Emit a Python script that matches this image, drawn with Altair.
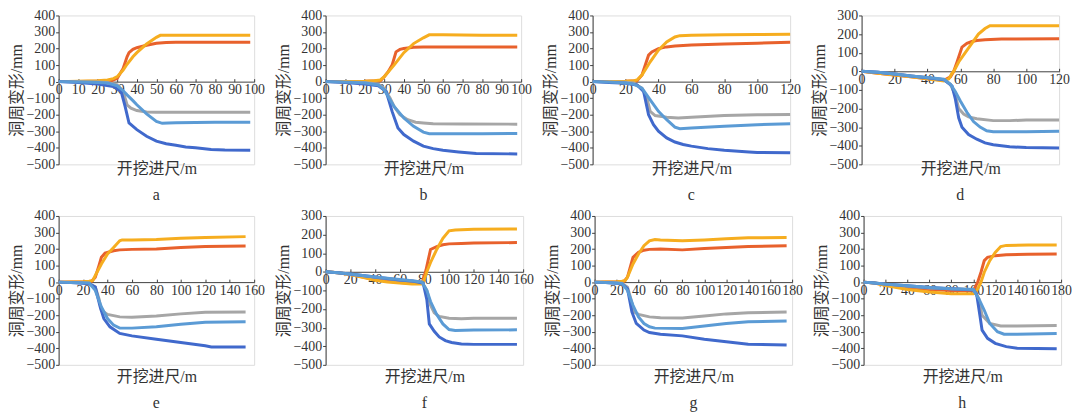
import altair as alt
import pandas as pd

SERIES = ["1red", "2orange", "3gray", "4dark", "5light"]
COLORS = ["#E8612C", "#F6AD1F", "#A6A6A6", "#4069CC", "#5B9BD5"]

A_RED = [(0,0),(10,1),(20,3),(27,5),(30,20),(33,80),(35,150),(36,175),(38,195),(40,205),(45,220),(50,232),(55,237),(60,238),(70,238),(80,238),(98,238)]
A_ORG = [(0,0),(10,2),(20,5),(25,10),(28,18),(30,30),(33,70),(35,105),(38,150),(40,175),(45,228),(50,268),(52,280),(60,280),(70,280),(80,280),(98,280)]
A_GRY = [(0,0),(10,0),(20,-2),(25,-5),(30,-20),(33,-60),(35,-140),(37,-160),(40,-175),(45,-183),(50,-185),(60,-185),(80,-185),(98,-185)]
A_LBL = [(0,0),(10,-2),(20,-5),(25,-8),(30,-25),(33,-55),(35,-80),(38,-115),(40,-140),(45,-195),(50,-240),(53,-252),(56,-250),(60,-248),(80,-246),(98,-246)]
A_DBL = [(0,0),(10,-5),(20,-15),(28,-30),(32,-60),(34,-150),(36,-250),(40,-290),(45,-330),(50,-360),(55,-375),(60,-385),(65,-395),(70,-400),(78,-410),(85,-413),(98,-415)]

B_RED = [(0,0),(20,2),(28,5),(30,30),(32,60),(34,100),(36,180),(38,195),(40,200),(45,208),(50,210),(60,210),(80,210),(98,210)]
B_ORG = [(0,0),(20,2),(25,5),(28,10),(30,30),(35,100),(40,175),(45,230),(50,265),(53,283),(60,283),(80,280),(98,280)]
B_GRY = [(0,0),(20,-5),(27,-15),(30,-40),(33,-100),(35,-150),(38,-200),(42,-230),(46,-245),(50,-250),(55,-255),(70,-256),(98,-257)]
B_LBL = [(0,0),(10,-3),(20,-8),(27,-20),(30,-50),(35,-150),(40,-220),(45,-270),(50,-305),(53,-315),(60,-315),(80,-315),(98,-313)]
B_DBL = [(0,0),(10,-5),(20,-15),(27,-25),(31,-60),(34,-180),(37,-280),(40,-320),(45,-360),(50,-390),(55,-405),(60,-415),(68,-425),(77,-435),(98,-437)]

C_RED = [(0,0),(20,2),(27,5),(30,40),(32,100),(34,160),(36,180),(40,200),(45,210),(50,215),(60,222),(80,228),(100,232),(120,238)]
C_ORG = [(0,0),(20,2),(25,5),(27,10),(30,40),(35,120),(40,190),(45,240),(50,270),(53,278),(60,280),(80,283),(100,285),(120,287)]
C_GRY = [(0,0),(20,-3),(25,-8),(30,-40),(33,-100),(35,-180),(38,-205),(45,-215),(52,-220),(60,-215),(80,-205),(100,-200),(120,-198)]
C_LBL = [(0,0),(10,-3),(20,-8),(25,-15),(30,-40),(35,-110),(40,-180),(45,-230),(50,-275),(53,-285),(60,-280),(80,-270),(100,-260),(120,-255)]
C_DBL = [(0,0),(10,-5),(20,-10),(27,-20),(31,-60),(34,-200),(37,-260),(40,-300),(45,-340),(50,-365),(55,-380),(60,-390),(70,-405),(80,-415),(95,-425),(100,-428),(120,-430)]

D_RED = [(0,0),(10,-10),(20,-20),(30,-30),(40,-40),(50,-48),(54,-30),(56,0),(58,50),(61,130),(64,150),(67,160),(70,165),(75,170),(85,173),(120,175)]
D_ORG = [(0,0),(10,-10),(20,-20),(30,-30),(40,-40),(50,-52),(53,-40),(55,-10),(56,0),(59,50),(63,100),(67,150),(71,200),(75,230),(78,245),(120,245)]
D_GRY = [(0,0),(10,-5),(20,-15),(30,-25),(40,-35),(50,-45),(54,-70),(57,-130),(59,-200),(62,-230),(65,-245),(70,-255),(80,-265),(90,-265),(100,-262),(120,-262)]
D_LBL = [(0,0),(10,-5),(20,-15),(30,-25),(40,-33),(50,-43),(54,-70),(57,-110),(60,-160),(64,-220),(68,-270),(72,-300),(76,-320),(80,-325),(100,-325),(120,-322)]
D_DBL = [(0,0),(10,-5),(20,-15),(30,-25),(40,-35),(50,-45),(55,-80),(57,-150),(59,-250),(61,-300),(65,-340),(70,-365),(75,-385),(80,-395),(90,-405),(100,-410),(120,-412)]

E_RED = [(0,0),(20,2),(27,5),(30,30),(33,100),(35,150),(38,175),(45,190),(50,195),(60,198),(80,200),(100,210),(120,215),(153,218)]
E_ORG = [(0,0),(20,2),(25,5),(28,10),(30,40),(35,110),(40,170),(45,210),(50,250),(52,255),(60,255),(80,258),(100,265),(120,270),(153,275)]
E_GRY = [(0,0),(20,-3),(25,-8),(30,-30),(33,-100),(35,-170),(40,-195),(50,-210),(60,-212),(80,-205),(100,-192),(120,-182),(153,-180)]
E_LBL = [(0,0),(10,-2),(25,-5),(30,-50),(35,-150),(40,-220),(45,-260),(50,-278),(60,-278),(80,-270),(100,-255),(120,-242),(153,-240)]
E_DBL = [(0,0),(10,-3),(25,-10),(30,-30),(34,-150),(37,-220),(42,-270),(50,-310),(60,-325),(80,-345),(100,-365),(120,-385),(125,-392),(153,-392)]

F_RED = [(0,0),(10,-5),(20,-15),(30,-28),(40,-40),(50,-50),(60,-58),(70,-62),(78,-60),(81,0),(83,60),(85,120),(90,135),(95,145),(100,150),(110,152),(120,155),(155,157)]
F_ORG = [(0,0),(10,-5),(20,-15),(30,-30),(40,-45),(50,-55),(60,-60),(70,-65),(78,-65),(80,-40),(82,0),(85,50),(90,120),(95,180),(100,220),(105,225),(120,228),(155,230)]
F_GRY = [(0,0),(10,-5),(20,-15),(30,-22),(40,-30),(50,-38),(60,-45),(70,-50),(78,-55),(82,-100),(85,-180),(88,-220),(92,-240),(100,-250),(110,-252),(120,-250),(155,-250)]
F_LBL = [(0,0),(10,-5),(20,-12),(30,-20),(40,-28),(50,-35),(60,-42),(70,-48),(78,-55),(82,-100),(85,-160),(90,-230),(95,-280),(100,-310),(105,-315),(120,-313),(155,-312)]
F_DBL = [(0,0),(10,-5),(20,-12),(30,-20),(40,-28),(50,-36),(60,-44),(70,-50),(79,-60),(82,-150),(84,-280),(88,-320),(92,-350),(97,-370),(102,-380),(110,-388),(120,-390),(155,-390)]

G_RED = [(0,0),(20,2),(27,5),(30,30),(35,150),(40,180),(45,193),(50,198),(60,200),(80,195),(100,203),(120,210),(140,215),(175,220)]
G_ORG = [(0,0),(20,2),(25,5),(28,10),(30,30),(35,110),(40,170),(45,220),(50,250),(55,258),(60,255),(80,250),(100,255),(120,262),(140,268),(175,270)]
G_GRY = [(0,0),(20,-3),(25,-8),(30,-30),(33,-100),(36,-180),(40,-195),(50,-210),(60,-215),(80,-217),(100,-205),(120,-192),(140,-185),(175,-180)]
G_LBL = [(0,0),(10,-2),(25,-8),(30,-50),(35,-140),(40,-210),(45,-250),(50,-270),(55,-278),(80,-280),(100,-265),(120,-250),(140,-240),(175,-235)]
G_DBL = [(0,0),(10,-3),(25,-10),(30,-40),(34,-180),(38,-250),(45,-290),(50,-305),(60,-315),(80,-325),(100,-345),(120,-360),(140,-375),(175,-380)]

H_RED = [(0,0),(10,-5),(20,-18),(40,-35),(60,-45),(80,-50),(100,-52),(104,0),(107,60),(110,130),(113,150),(120,160),(130,165),(150,168),(176,170)]
H_ORG = [(0,0),(10,-5),(20,-20),(40,-45),(60,-60),(80,-70),(100,-70),(103,-55),(107,0),(110,60),(115,130),(120,180),(125,215),(130,222),(150,224),(176,225)]
H_GRY = [(0,0),(10,-5),(20,-12),(40,-25),(60,-35),(80,-40),(100,-45),(105,-100),(108,-200),(115,-250),(125,-265),(140,-265),(176,-262)]
H_LBL = [(0,0),(10,-5),(20,-12),(40,-22),(60,-32),(80,-40),(100,-45),(105,-100),(110,-170),(115,-250),(122,-300),(128,-315),(140,-315),(176,-310)]
H_DBL = [(0,0),(10,-5),(20,-12),(40,-22),(60,-32),(80,-40),(100,-48),(103,-70),(106,-200),(108,-290),(113,-340),(120,-370),(130,-390),(140,-400),(176,-403)]

LATIN = "Liberation Serif"
CJK = "Liberation Serif, Noto Sans CJK SC"
TXT = "#333333"
AX = "#404040"
H = 150


def panel(series, xmax, xstep, ymin, ymax, letter, width, title_dy, letter_offset):
    rows = []
    for name, pts in zip(SERIES, series):
        for x, y in pts:
            rows.append({"x": x, "y": y, "s": name})
    df = pd.DataFrame(rows)
    zero_top = H * ymax / (ymax - ymin)
    zero_bot = H - zero_top
    xticks = list(range(0, xmax + 1, xstep))
    yticks = list(range(ymin, ymax + 1, 100))
    xs = alt.Scale(domain=[0, xmax], nice=False)
    ys = alt.Scale(domain=[ymin, ymax], nice=False)
    color = alt.Color("s:N", scale=alt.Scale(domain=SERIES, range=COLORS), legend=None)
    yaxis = alt.Axis(
        values=yticks, tickSize=3, tickColor=AX, domainColor=AX,
        labelFont=LATIN, labelFontSize=14, labelColor=TXT, labelPadding=1,
        labelFlush=False, labelOverlap=False, grid=False,
        title="洞周变形/mm", titleFont=CJK, titleFontSize=16,
        titleFontWeight="normal", titleColor=TXT, titlePadding=1)
    base = alt.Chart(df)
    l1 = base.mark_line(strokeWidth=3).encode(
        x=alt.X("x:Q", scale=xs, axis=alt.Axis(
            orient="bottom", offset=-zero_bot, values=xticks, ticks=False,
            domainColor=AX, domainWidth=1, labelFont=LATIN, labelFontSize=14,
            labelColor=TXT, labelPadding=1, labelFlush=False, labelOverlap=False,
            grid=False, title="开挖进尺/m", titleFont=CJK, titleFontSize=16,
            titleFontWeight="normal", titleColor=TXT, titleY=zero_bot + title_dy)),
        y=alt.Y("y:Q", scale=ys, axis=yaxis),
        color=color,
    )
    l2 = base.mark_line(opacity=0).encode(
        x=alt.X("x:Q", scale=xs, axis=alt.Axis(
            orient="top", offset=-zero_top, values=xticks, labels=False,
            domain=False, ticks=True, tickSize=3, tickColor=AX, grid=False,
            title=None)),
        y=alt.Y("y:Q", scale=ys, axis=yaxis),
        color=color,
    )
    return alt.layer(l1, l2).resolve_axis(x="independent").properties(
        width=width, height=H,
        title=alt.Title(letter, orient="bottom", anchor="middle", font=LATIN,
                        fontSize=16, fontWeight="normal", color=TXT,
                        offset=letter_offset),
    )


row1 = alt.hconcat(
    panel([A_RED, A_ORG, A_GRY, A_DBL, A_LBL], 100, 10, -500, 400, "a", 197, -4, 11),
    panel([B_RED, B_ORG, B_GRY, B_DBL, B_LBL], 100, 10, -500, 400, "b", 197, -4, 11),
    panel([C_RED, C_ORG, C_GRY, C_DBL, C_LBL], 120, 20, -500, 400, "c", 199, -4, 11),
    panel([D_RED, D_ORG, D_GRY, D_DBL, D_LBL], 120, 20, -500, 300, "d", 199, -4, 11),
    spacing=72, bounds="flush",
)
row2 = alt.hconcat(
    panel([E_RED, E_ORG, E_GRY, E_DBL, E_LBL], 160, 20, -500, 400, "e", 197, 4, 10),
    panel([F_RED, F_ORG, F_GRY, F_DBL, F_LBL], 160, 20, -500, 300, "f", 199, 4, 10),
    panel([G_RED, G_ORG, G_GRY, G_DBL, G_LBL], 180, 20, -500, 400, "g", 199, 4, 10),
    panel([H_RED, H_ORG, H_GRY, H_DBL, H_LBL], 180, 20, -500, 400, "h", 199, 4, 10),
    spacing=72, bounds="flush",
)
chart = alt.vconcat(row1, row2, spacing=4).properties(
    padding={"left": 0, "top": -2, "right": 0, "bottom": 0}
).configure_view(stroke=None).configure(background="white")

chart.save("out.html", embed_options={"renderer": "svg", "actions": False})
